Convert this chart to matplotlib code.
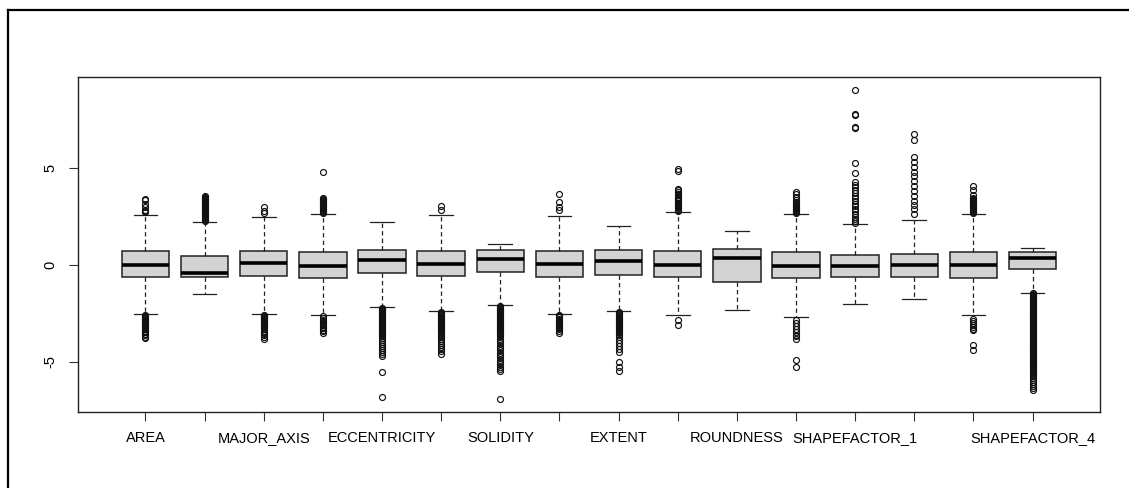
import matplotlib
matplotlib.use("Agg")
import matplotlib.pyplot as plt
from matplotlib.lines import Line2D

plt.rcParams['font.family'] = ['Liberation Sans', 'DejaVu Sans']

# one box per standardized variable
names = ["AREA", "PERIMETER", "MAJOR_AXIS", "MINOR_AXIS", "ECCENTRICITY",
         "CONVEX_AREA", "SOLIDITY", "EQUIV_DIAMETER", "EXTENT", "ASPECT_RATIO",
         "ROUNDNESS", "COMPACTNESS", "SHAPEFACTOR_1", "SHAPEFACTOR_2",
         "SHAPEFACTOR_3", "SHAPEFACTOR_4"]
# labels R managed to print (the rest are skipped for overlap)
shown = ["AREA", "MAJOR_AXIS", "ECCENTRICITY", "SOLIDITY", "EXTENT",
         "ROUNDNESS", "SHAPEFACTOR_1", "SHAPEFACTOR_4"]

medians = [0.00, -0.45, 0.09, -0.05, 0.22, 0.05, 0.31, 0.05,
           0.21, 0.00, 0.36, -0.05, -0.09, -0.03, -0.03, 0.34]
q1 = [-0.62, -0.65, -0.58, -0.67, -0.45, -0.57, -0.40, -0.62,
      -0.53, -0.65, -0.91, -0.69, -0.62, -0.62, -0.71, -0.22]
q3 = [0.71, 0.46, 0.71, 0.67, 0.76, 0.71, 0.77, 0.71,
      0.76, 0.71, 0.82, 0.65, 0.52, 0.55, 0.65, 0.64]
whis_lo = [-2.54, -1.49, -2.54, -2.58, -2.16, -2.41, -2.06, -2.54,
           -2.41, -2.61, -2.36, -2.70, -2.05, -1.79, -2.61, -1.44]
whis_hi = [2.58, 2.22, 2.44, 2.61, 2.18, 2.56, 1.08, 2.53,
           1.99, 2.72, 1.75, 2.61, 2.08, 2.30, 2.61, 0.88]

fliers = [
    # AREA
    [2.70, 2.78, 2.84, 2.95, 3.13, 3.31, 3.40,
     -2.60, -2.65, -2.70, -2.75, -2.80, -2.85, -2.90, -2.95, -3.00, -3.05,
     -3.10, -3.15, -3.20, -3.26, -3.32, -3.40, -3.48, -3.56, -3.64, -3.72,
     -3.80],
    # PERIMETER
    [2.26, 2.31, 2.36, 2.41, 2.46, 2.51, 2.56, 2.61, 2.66, 2.71, 2.76, 2.81,
     2.86, 2.91, 2.96, 3.01, 3.06, 3.11, 3.16, 3.21, 3.26, 3.31, 3.36, 3.41,
     3.46, 3.51, 3.55],
    # MAJOR_AXIS
    [2.66, 2.78, 2.98,
     -2.60, -2.65, -2.70, -2.75, -2.80, -2.85, -2.90, -2.95, -3.00, -3.05,
     -3.10, -3.15, -3.20, -3.26, -3.32, -3.40, -3.48, -3.56, -3.64, -3.72,
     -3.82],
    # MINOR_AXIS
    [2.66, 2.71, 2.76, 2.81, 2.86, 2.91, 2.96, 3.01, 3.06, 3.11, 3.16, 3.21,
     3.26, 3.31, 3.36, 3.44, 4.75,
     -2.65, -2.75, -2.85, -2.92, -2.99, -3.06, -3.13, -3.20, -3.27, -3.34,
     -3.41, -3.50],
    # ECCENTRICITY
    [-2.21, -2.26, -2.31, -2.36, -2.41, -2.46, -2.51, -2.56, -2.61, -2.66,
     -2.71, -2.76, -2.81, -2.86, -2.91, -2.96, -3.01, -3.06, -3.11, -3.16,
     -3.21, -3.26, -3.31, -3.36, -3.41, -3.46, -3.52, -3.58, -3.64, -3.70,
     -3.80, -3.90, -4.00, -4.10, -4.20, -4.30, -4.40, -4.50, -4.60, -4.73,
     -5.55, -6.84],
    # CONVEX_AREA
    [2.84, 3.00,
     -2.46, -2.51, -2.56, -2.61, -2.66, -2.71, -2.76, -2.81, -2.86, -2.91,
     -2.96, -3.01, -3.06, -3.11, -3.16, -3.21, -3.26, -3.31, -3.36, -3.42,
     -3.48, -3.55, -3.65, -3.75, -3.85, -3.95, -4.05, -4.15, -4.25, -4.35,
     -4.45, -4.59],
    # SOLIDITY
    [-2.11, -2.16, -2.21, -2.26, -2.31, -2.36, -2.41, -2.46, -2.51, -2.56,
     -2.61, -2.66, -2.71, -2.76, -2.81, -2.86, -2.91, -2.96, -3.01, -3.06,
     -3.11, -3.16, -3.21, -3.26, -3.31, -3.36, -3.41, -3.46, -3.52, -3.58,
     -3.64, -3.70, -3.82, -3.94, -4.06, -4.18, -4.30, -4.42, -4.54, -4.66,
     -4.78, -4.90, -5.02, -5.14, -5.26, -5.38, -5.50, -6.92],
    # EQUIV_DIAMETER
    [2.84, 2.97, 3.21, 3.62,
     -2.60, -2.66, -2.72, -2.78, -2.84, -2.90, -2.96, -3.02, -3.08, -3.14,
     -3.20, -3.26, -3.32, -3.40, -3.52],
    # EXTENT
    [-2.46, -2.51, -2.56, -2.61, -2.66, -2.71, -2.76, -2.81, -2.86, -2.91,
     -2.96, -3.01, -3.06, -3.11, -3.16, -3.21, -3.26, -3.31, -3.36, -3.41,
     -3.46, -3.52, -3.61, -3.75, -3.90, -4.04, -4.20, -4.35, -4.52, -5.02,
     -5.26, -5.48],
    # ASPECT_RATIO
    [2.78, 2.84, 2.90, 2.96, 3.02, 3.08, 3.14, 3.20, 3.26, 3.32, 3.38, 3.44,
     3.50, 3.58, 3.66, 3.74, 3.85, 3.92, 4.85, 4.91,
     -2.84, -3.09],
    # ROUNDNESS
    [],
    # COMPACTNESS
    [2.66, 2.71, 2.76, 2.81, 2.86, 2.91, 2.96, 3.01, 3.06, 3.11, 3.16, 3.22,
     3.35, 3.50, 3.62, 3.75,
     -2.84, -3.00, -3.15, -3.30, -3.45, -3.60, -3.70, -3.83, -4.90, -5.29],
    # SHAPEFACTOR_1
    [2.15, 2.25, 2.36, 2.48, 2.60, 2.75, 2.88, 3.00, 3.15, 3.28, 3.42, 3.55,
     3.70, 3.85, 3.98, 4.12, 4.26, 4.74, 5.26, 7.02, 7.07, 7.70, 7.77, 9.02],
    # SHAPEFACTOR_2
    [2.63, 2.85, 3.05, 3.30, 3.55, 3.80, 4.05, 4.30, 4.55, 4.80, 5.05, 5.30,
     5.55, 6.41, 6.72],
    # SHAPEFACTOR_3
    [2.66, 2.71, 2.76, 2.81, 2.86, 2.91, 2.96, 3.01, 3.06, 3.11, 3.16, 3.21,
     3.26, 3.31, 3.36, 3.44, 3.60, 3.85, 4.07,
     -2.80, -2.90, -3.00, -3.10, -3.20, -3.30, -3.39, -4.12, -4.38],
    # SHAPEFACTOR_4
    [-1.47, -1.52, -1.57, -1.62, -1.67, -1.72, -1.77, -1.82, -1.87, -1.92,
     -1.97, -2.02, -2.07, -2.12, -2.17, -2.22, -2.27, -2.32, -2.37, -2.42,
     -2.47, -2.52, -2.57, -2.62, -2.67, -2.72, -2.77, -2.82, -2.87, -2.92,
     -2.97, -3.02, -3.07, -3.12, -3.17, -3.22, -3.27, -3.32, -3.37, -3.42,
     -3.47, -3.52, -3.57, -3.62, -3.67, -3.72, -3.77, -3.82, -3.87, -3.92,
     -3.97, -4.02, -4.07, -4.12, -4.17, -4.22, -4.27, -4.32, -4.37, -4.42,
     -4.47, -4.52, -4.57, -4.62, -4.67, -4.72, -4.77, -4.82, -4.87, -4.92,
     -4.97, -5.02, -5.07, -5.12, -5.17, -5.22, -5.27, -5.32, -5.37, -5.42,
     -5.47, -5.52, -5.57, -5.66, -5.76, -5.86, -5.96, -6.06, -6.16, -6.26,
     -6.35, -6.44],
]

stats = []
for i in range(len(names)):
    stats.append({"med": medians[i], "q1": q1[i], "q3": q3[i],
                  "whislo": whis_lo[i], "whishi": whis_hi[i],
                  "fliers": fliers[i], "label": names[i]})

fig = plt.figure(figsize=(11.29, 4.88), dpi=100)
ax = fig.add_axes([78 / 1129, 1 - 412 / 488, 1022 / 1129, 335 / 488])

positions = list(range(1, len(names) + 1))
ax.bxp(stats, positions=positions, widths=0.8, patch_artist=True,
       boxprops=dict(facecolor="#d3d3d3", edgecolor="#222222", linewidth=1.1),
       medianprops=dict(color="black", linewidth=2.6, solid_capstyle="butt"),
       whiskerprops=dict(color="#222222", linewidth=0.9, linestyle=(0, (3.5, 2.5))),
       capprops=dict(color="#222222", linewidth=0.9),
       capwidths=0.4,
       flierprops=dict(marker="o", markersize=4.3, markerfacecolor="none",
                       markeredgecolor="#111111", markeredgewidth=0.85,
                       linestyle="none"))

ax.set_xlim(-0.14, 17.14)
ax.set_ylim(-7.59, 9.67)

ax.set_xticks(positions)
ax.set_xticklabels([n if n in shown else "" for n in names], fontsize=10.5)
ax.set_yticks([-5, 0, 5])
ax.set_yticklabels(["-5", "0", "5"], fontsize=10.5, rotation=90, va="center")
ax.tick_params(axis="x", length=6.5, width=0.8, pad=7, color="#333333")
ax.tick_params(axis="y", length=6.5, width=0.8, pad=8, color="#333333")
for s in ax.spines.values():
    s.set_color("#222222")
    s.set_linewidth(1.0)

# outer frame of the device (top and left edges visible)
fig.add_artist(Line2D([8 / 1129, 1], [1 - 10 / 488, 1 - 10 / 488],
                      color="black", linewidth=1.6))
fig.add_artist(Line2D([8 / 1129, 8 / 1129], [0, 1 - 10 / 488],
                      color="black", linewidth=1.6))

fig.savefig("out.png", dpi=100)
